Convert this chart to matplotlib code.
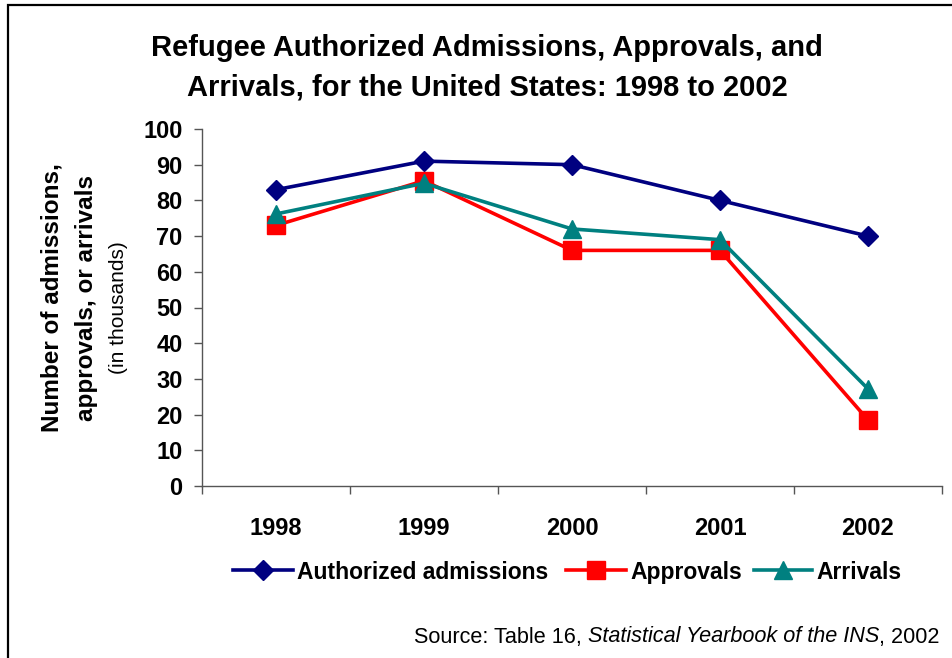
import matplotlib.pyplot as plt
from matplotlib.lines import Line2D
from matplotlib.patches import Rectangle

plt.rcParams["font.family"] = ["Liberation Sans", "DejaVu Sans"]

years = ["1998", "1999", "2000", "2001", "2002"]
authorized = [83, 91, 90, 80, 70]
approvals = [73, 85.5, 66, 66, 18.5]
arrivals = [76.2, 84.8, 72, 69, 27.2]

W, H = 952, 658
fig = plt.figure(figsize=(W / 100, H / 100), dpi=100)

# outer frame, running off the right and bottom edges
fig.patches.append(Rectangle((8 / W, -0.1), 1.2, 1 - 5 / H + 0.1,
                             transform=fig.transFigure, fill=False,
                             edgecolor="black", linewidth=1.6))

ax = fig.add_axes([202 / W, 1 - 486 / H, 740 / W, 357 / H])
xs = [i + 0.5 for i in range(len(years))]

series = [
    ("Authorized admissions", authorized, "#000080", "D", 10),
    ("Approvals", approvals, "#FF0000", "s", 13),
    ("Arrivals", arrivals, "#008080", "^", 13),
]
for z, (name, vals, col, mk, ms) in enumerate(series):
    ax.plot(xs, vals, color=col, lw=2.6, marker=mk, ms=ms, label=name, zorder=3 + z)

ax.set_xlim(0, len(years))
ax.set_ylim(0, 100)
ax.set_yticks(range(0, 101, 10))
ax.set_xticks(range(len(years) + 1))
ax.set_xticklabels([])
ax.set_xticks(xs, minor=True)
ax.set_xticklabels(years, minor=True)
ax.tick_params(axis="x", which="minor", length=0, pad=22)
ax.tick_params(axis="x", which="major", length=6, color="#555555", width=1)
ax.tick_params(axis="y", length=6, color="#555555", width=1, pad=8)
for lbl in ax.get_xticklabels(minor=True) + ax.get_yticklabels():
    lbl.set_fontsize(17)
    lbl.set_fontweight("bold")

for s in ("top", "right"):
    ax.spines[s].set_visible(False)
for s in ("left", "bottom"):
    ax.spines[s].set_color("#555555")
    ax.spines[s].set_linewidth(1)

fig.text(487 / W, 1 - 68 / H,
         "Refugee Authorized Admissions, Approvals, and\n"
         "Arrivals, for the United States: 1998 to 2002",
         ha="center", va="center", fontsize=21, fontweight="bold",
         linespacing=1.5)

fig.text(52 / W, 1 - 298 / H, "Number of admissions,", rotation=90,
         ha="center", va="center", fontsize=17.5, fontweight="bold")
fig.text(86 / W, 1 - 298 / H, "approvals, or arrivals", rotation=90,
         ha="center", va="center", fontsize=17.5, fontweight="bold")
fig.text(118 / W, 1 - 308 / H, "(in thousands)", rotation=90,
         ha="center", va="center", fontsize=15)

# legend row laid out by hand so all labels share one baseline
leg_y = 1 - 570 / H
leg_x = [(233, 293), (566, 626), (754, 812)]
for (name, vals, col, mk, ms), (x0, x1) in zip(series, leg_x):
    fig.add_artist(Line2D([x0 / W, x1 / W], [leg_y, leg_y], color=col, lw=2.6,
                          transform=fig.transFigure))
    fig.add_artist(Line2D([(x0 + x1) / 2 / W], [leg_y], color=col, marker=mk,
                          ms=ms, transform=fig.transFigure))
    fig.text((x1 + 4) / W, leg_y, name, ha="left", va="center_baseline",
             fontsize=16.5, fontweight="bold")

src = fig.text(414 / W, 1 - 637 / H, "Source: Table 16, ", ha="left",
               va="center", fontsize=15.6)
fig.canvas.draw()
bb = src.get_window_extent()
it = fig.text(bb.x1 / W, 1 - 637 / H, "Statistical Yearbook of the INS", ha="left",
              va="center", fontsize=15.6, style="italic")
fig.canvas.draw()
bb = it.get_window_extent()
fig.text(bb.x1 / W, 1 - 637 / H, ", 2002", ha="left", va="center", fontsize=15.6)

fig.savefig("out.png", dpi=100)
